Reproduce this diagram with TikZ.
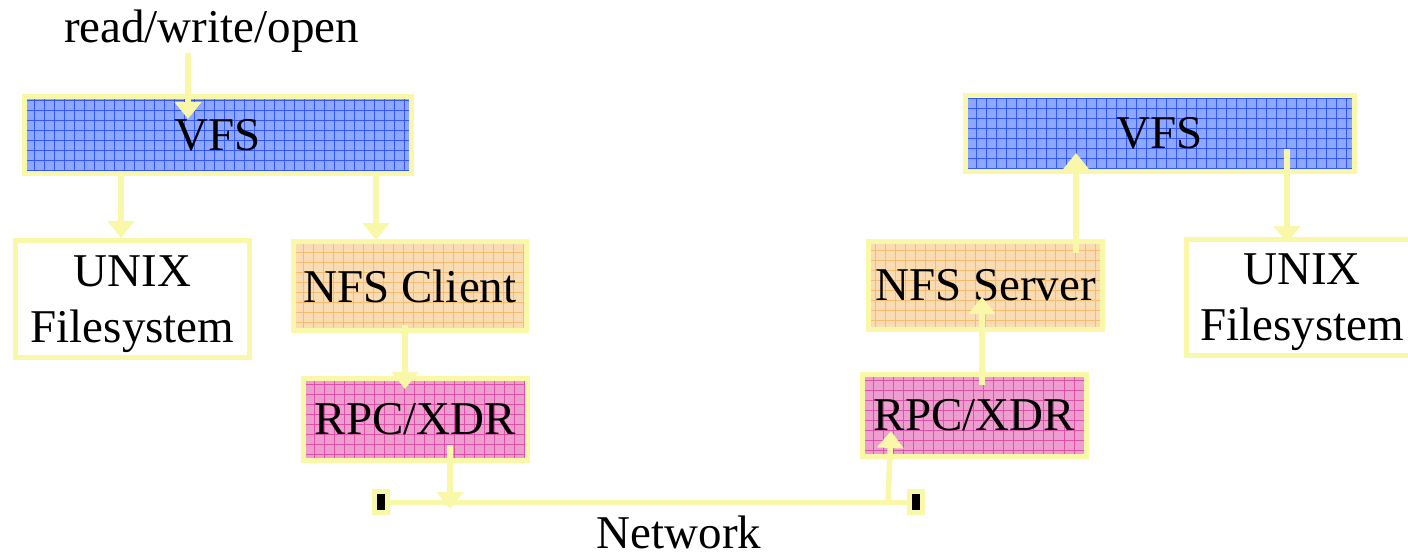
\documentclass[tikz,border=0pt]{standalone}
\usepackage{fontspec}
\setmainfont{Liberation Serif}
\usetikzlibrary{arrows.meta}
\definecolor{rim}{RGB}{248,248,168}
\definecolor{vfsfill}{RGB}{142,168,255}
\definecolor{vfsgrid}{RGB}{52,88,255}
\definecolor{nfsfill}{RGB}{250,220,180}
\definecolor{nfsgrid}{RGB}{248,188,110}
\definecolor{rpcfill}{RGB}{236,158,206}
\definecolor{rpcgrid}{RGB}{222,80,170}
\tikzset{
  gridfill/.style n args={2}{fill=#1,
    path picture={\draw[#2,line width=0.9pt,step=10pt]
      (path picture bounding box.south west) grid (path picture bounding box.north east);}},
  box/.style={draw=rim,line width=5pt,inner sep=0pt,align=center,
    font=\fontsize{47}{56}\selectfont},
  vfsbox/.style={box,gridfill={vfsfill}{vfsgrid}},
  nfsbox/.style={box,gridfill={nfsfill}{nfsgrid}},
  rpcbox/.style={box,gridfill={rpcfill}{rpcgrid}},
  fsbox/.style={box,fill=white,text depth=0pt},
  netend/.style={draw=rim,line width=5pt,fill=black,inner sep=0pt,
    minimum width=13pt,minimum height=21pt},
  label/.style={font=\fontsize{47}{56}\selectfont,inner sep=0pt,anchor=base},
  arr/.style={draw=rim,line width=5.5pt,-{Triangle[width=26pt,length=17pt]}},
  wire/.style={draw=rim,line width=5pt}
}
\begin{document}
\begin{tikzpicture}[x=1pt,y=-1pt]
\useasboundingbox (0,0) rectangle (1408,558);

% client side
\node[label] (rw) at (211.5,42) {read/write/open};
\node[vfsbox,minimum width=387pt,minimum height=77pt] (vfsL) at (218,135) {VFS};
\node[fsbox,minimum width=234pt,minimum height=117pt] (unixL) at (132.5,299) {UNIX\\Filesystem};
\node[nfsbox,minimum width=233pt,minimum height=89pt] (nfsC) at (410,286) {NFS Client};
\node[rpcbox,minimum width=224pt,minimum height=82pt] (rpcL) at (415.5,419.5) {RPC/XDR};

% server side
\node[vfsbox,minimum width=389pt,minimum height=76pt] (vfsR) at (1160,133.5) {VFS};
\node[fsbox,minimum width=231pt,minimum height=116pt] (unixR) at (1302,297.5) {UNIX\\Filesystem};
\node[nfsbox,minimum width=234pt,minimum height=88pt] (nfsS) at (985.5,285.5) {NFS Server};
\node[rpcbox,minimum width=224pt,minimum height=82pt] (rpcR) at (974.5,415.5) {RPC/XDR};

% network
\node[netend] (endL) at (381,502) {};
\node[netend] (endR) at (916,502) {};
\draw[wire] (endL) -- (endR);
\coordinate (netA) at (450,509);
\coordinate (netB) at (888,502);
\node[label] (net) at (679,548) {Network};

% call path
\draw[arr] ([shift={(-23.5,11)}]rw.base) -- ([shift={(-30,-16)}]vfsL.center);
\draw[arr] ([shift={(-97,38)}]vfsL.center) -- ([shift={(-11.5,-61)}]unixL.center);
\draw[arr] ([shift={(158,38)}]vfsL.center) -- ([shift={(-34,-46)}]nfsC.center);
\draw[arr] ([shift={(-5,39)}]nfsC.center) -- ([shift={(-10.5,-30.5)}]rpcL.center);
\draw[arr] ([shift={(34.5,25.5)}]rpcL.center) -- (netA);
\draw[arr] (netB) -- ([shift={(-83.5,15.5)}]rpcR.center);
\draw[arr] ([shift={(7.5,-30.5)}]rpcR.center) -- ([shift={(-3.5,11.5)}]nfsS.center);
\draw[arr] ([shift={(90.5,-32.5)}]nfsS.center) -- ([shift={(-84,19.5)}]vfsR.center);
\draw[arr] ([shift={(127,15.5)}]vfsR.center) -- ([shift={(-15,-54.5)}]unixR.center);
\end{tikzpicture}
\end{document}
